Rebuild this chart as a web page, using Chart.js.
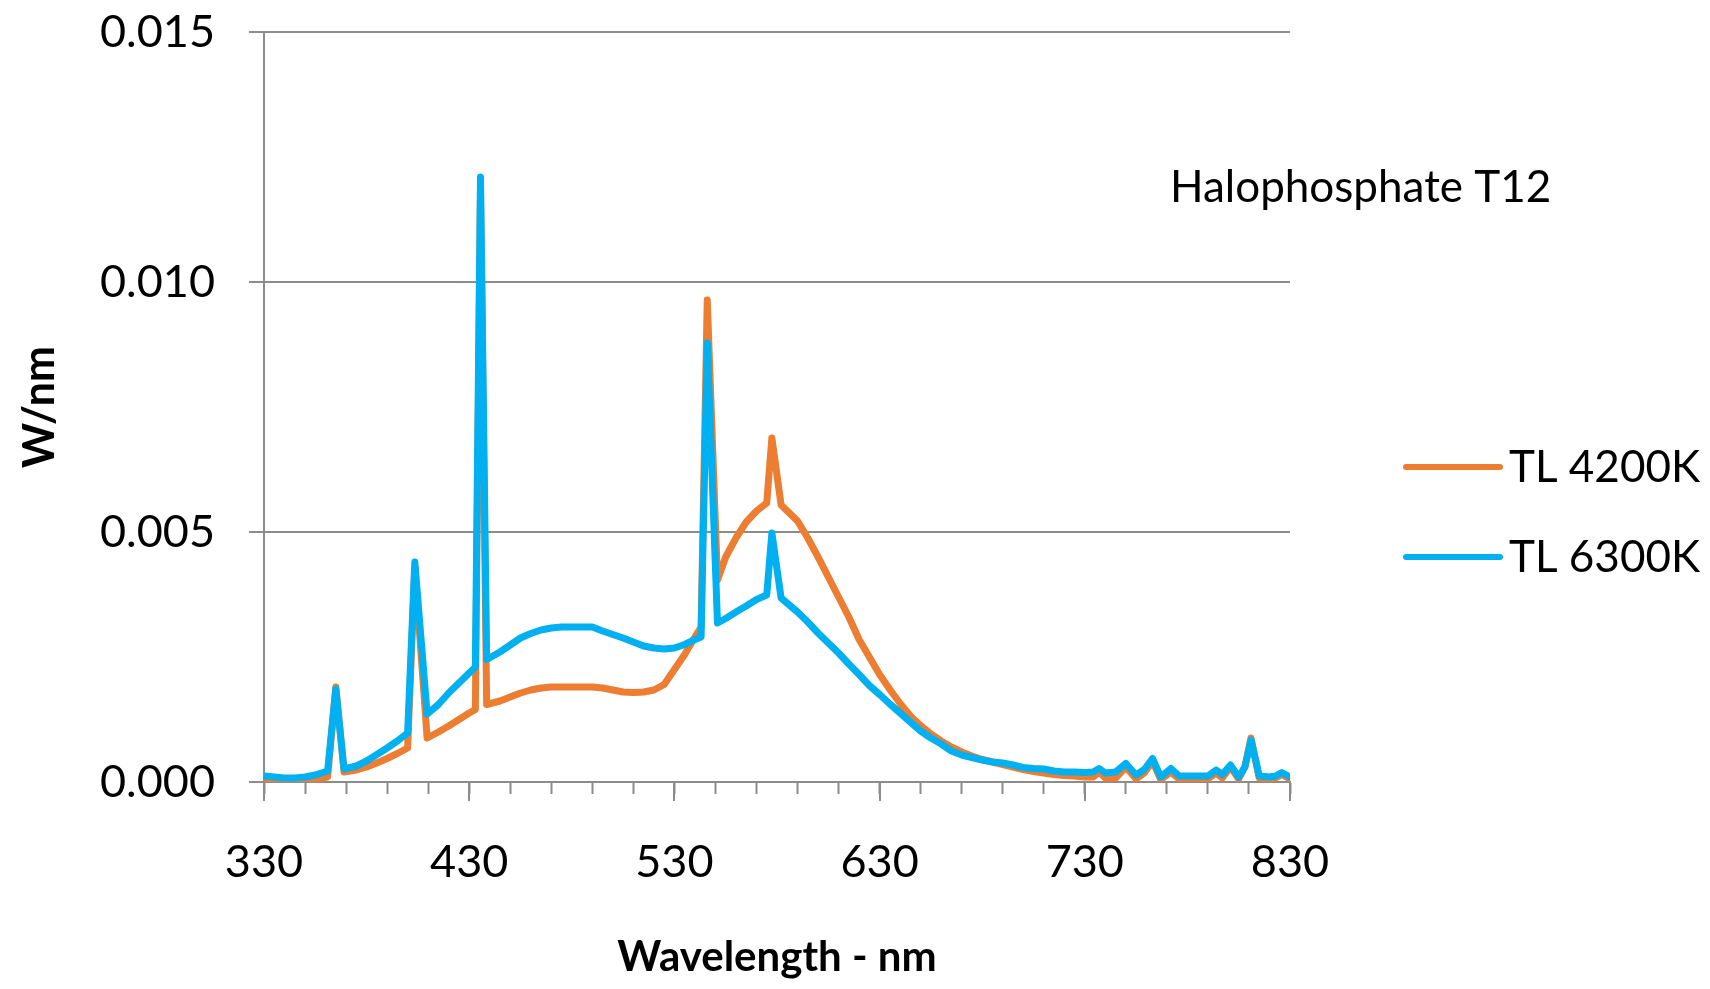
<!DOCTYPE html>
<html>
<head>
<meta charset="utf-8">
<script src="https://cdn.jsdelivr.net/npm/chart.js@4.4.1/dist/chart.umd.min.js"></script>
<style>
  html, body { margin: 0; padding: 0; background: #ffffff; }
  #wrap { position: relative; width: 1710px; height: 989px; }
</style>
</head>
<body>
<div id="wrap"><canvas id="c" width="1710" height="989"></canvas></div>
<script>
// ---- data ----
const wavelengths = [330,335,340,345,350,355,361,365,369,375,380,385,390,395,400,403.5,409.5,415,420,425,430,433,435.5,438.5,445,450,455,460,465,470,475,480,485,490,495,500,505,510,515,520,525,530,535,540,543,546,551,555,560,565,570,575,577.5,582,590,595,600,605,610,615,620,625,630,635,640,645,650,655,660,665,670,675,680,685,690,695,700,705,710,715,720,725,730,734,737,740,745,750,755,759,763,767,772,776,780,785,790,794,797,801,805,808,811,815,820,823,826,830];

const tl4200K = [0.00005,0.00004,0.00004,0.00004,0.00005,0.00006,0.00010,0.00190,0.00020,0.00024,0.00030,0.00038,0.00047,0.00057,0.00068,0.00430,0.00088,0.00100,0.00112,0.00125,0.00138,0.00145,0.01180,0.00155,0.00162,0.00170,0.00178,0.00184,0.00188,0.00190,0.00190,0.00190,0.00190,0.00190,0.00188,0.00184,0.00180,0.00179,0.00180,0.00184,0.00195,0.00225,0.00255,0.00290,0.00310,0.00964,0.00404,0.00450,0.00488,0.00520,0.00542,0.00558,0.00688,0.00554,0.00522,0.00488,0.00450,0.00410,0.00370,0.00330,0.00285,0.00250,0.00215,0.00185,0.00157,0.00132,0.00113,0.00096,0.00082,0.00070,0.00060,0.00052,0.00045,0.00040,0.00035,0.00030,0.00025,0.00021,0.00018,0.00015,0.00013,0.00012,0.00010,0.00010,0.00020,0.00008,0.00008,0.00030,0.00006,0.00018,0.00042,0.00005,0.00020,0.00006,0.00006,0.00006,0.00006,0.00018,0.00008,0.00030,0.00006,0.00030,0.00088,0.00008,0.00006,0.00008,0.00015,0.00006];

const tl6300K = [0.00012,0.00010,0.00008,0.00008,0.00010,0.00014,0.00022,0.00186,0.00026,0.00032,0.00042,0.00055,0.00068,0.00082,0.00098,0.00440,0.00136,0.00155,0.00178,0.00198,0.00218,0.00230,0.01210,0.00245,0.00260,0.00274,0.00288,0.00297,0.00304,0.00308,0.00310,0.00310,0.00310,0.00310,0.00302,0.00295,0.00288,0.00280,0.00272,0.00268,0.00266,0.00268,0.00275,0.00285,0.00290,0.00878,0.00318,0.00327,0.00340,0.00352,0.00365,0.00374,0.00498,0.00368,0.00340,0.00320,0.00298,0.00278,0.00258,0.00236,0.00215,0.00193,0.00175,0.00156,0.00138,0.00120,0.00102,0.00088,0.00076,0.00062,0.00054,0.00049,0.00044,0.00040,0.00038,0.00034,0.00029,0.00027,0.00026,0.00022,0.00020,0.00020,0.00019,0.00020,0.00027,0.00018,0.00020,0.00037,0.00014,0.00025,0.00047,0.00010,0.00027,0.00012,0.00012,0.00012,0.00012,0.00024,0.00015,0.00034,0.00010,0.00030,0.00084,0.00012,0.00010,0.00012,0.00019,0.00010];

const seriesNames = ['TL 4200K', 'TL 6300K'];
const xMajorTicks = [330, 430, 530, 630, 730, 830];
const yTicks = [0, 0.005, 0.010, 0.015];
const xMinorStep = 20;
const chartSubtitle = 'Halophosphate T12';
const xTitle = 'Wavelength - nm';
const yTitle = 'W/nm';

// ---- styling ----
const FONT = 'Lato, "Open Sans", sans-serif';
const GRID = '#8c8c8c';
const ORANGE = '#ED7D31';
const BLUE = '#00B0F0';

const toPoints = (vals) => vals.map((v, i) => ({ x: wavelengths[i], y: v }));

const xTickValues = [];
for (let v = xMajorTicks[0]; v <= xMajorTicks[xMajorTicks.length - 1]; v += xMinorStep) xTickValues.push(v);
if (xTickValues[xTickValues.length - 1] !== 830) xTickValues.push(830);

const decorPlugin = {
  id: 'decor',
  afterDraw(chart) {
    const ctx = chart.ctx;
    const xs = chart.scales.x;
    const area = chart.chartArea;
    ctx.save();
    // longer major tick marks on the x axis
    ctx.strokeStyle = GRID;
    ctx.lineWidth = 2;
    xMajorTicks.forEach(v => {
      const px = Math.round(xs.getPixelForValue(v));
      ctx.beginPath();
      ctx.moveTo(px, area.bottom);
      ctx.lineTo(px, area.bottom + 19);
      ctx.stroke();
    });
    // subtitle
    ctx.fillStyle = '#000000';
    ctx.font = '44px ' + FONT;
    ctx.textAlign = 'left';
    ctx.textBaseline = 'middle';
    ctx.fillText(chartSubtitle, 1170, 188);
    // legend
    const rows = [467, 557];
    chart.data.datasets.forEach((ds, i) => {
      const y = rows[i];
      ctx.strokeStyle = ds.borderColor;
      ctx.lineWidth = 6;
      ctx.lineCap = 'round';
      ctx.beginPath();
      ctx.moveTo(1406, y);
      ctx.lineTo(1500, y);
      ctx.stroke();
      ctx.fillStyle = '#000000';
      ctx.font = '44px ' + FONT;
      ctx.fillText(ds.label, 1509, y + 1);
    });
    ctx.restore();
  }
};

new Chart(document.getElementById('c'), {
  type: 'line',
  data: {
    datasets: [
      { label: seriesNames[0], data: toPoints(tl4200K), borderColor: ORANGE, backgroundColor: ORANGE, borderWidth: 7, order: 2 },
      { label: seriesNames[1], data: toPoints(tl6300K), borderColor: BLUE, backgroundColor: BLUE, borderWidth: 7, order: 1 }
    ]
  },
  options: {
    responsive: false,
    animation: false,
    devicePixelRatio: 1,
    layout: { padding: { left: 0, right: 420, top: 32, bottom: 0 } },
    elements: {
      point: { radius: 0, hoverRadius: 0 },
      line: { tension: 0, borderJoinStyle: 'round', borderCapStyle: 'round', fill: false }
    },
    plugins: {
      legend: { display: false },
      tooltip: { enabled: false },
      title: { display: false }
    },
    scales: {
      x: {
        type: 'linear',
        min: 330,
        max: 830,
        afterBuildTicks: (scale) => { scale.ticks = xTickValues.map(v => ({ value: v })); },
        afterFit: (scale) => { scale.height = 989 - 782; scale.paddingLeft = 0; scale.paddingRight = 0; },
        border: { display: true, color: GRID, width: 2 },
        grid: { display: true, drawOnChartArea: false, drawTicks: true, tickLength: 12, tickColor: GRID, tickWidth: 2 },
        ticks: {
          autoSkip: false,
          maxRotation: 0,
          padding: 41,
          color: '#000000',
          font: { family: FONT, size: 45 },
          callback: (v) => (xMajorTicks.includes(v) ? String(v) : '')
        },
        title: {
          display: true,
          text: xTitle,
          color: '#000000',
          font: { family: FONT, size: 42, weight: 'bold' },
          padding: { top: 0, bottom: 6 }
        }
      },
      y: {
        type: 'linear',
        min: 0,
        max: 0.015,
        afterBuildTicks: (scale) => { scale.ticks = yTicks.map(v => ({ value: v })); },
        afterFit: (scale) => { scale.width = 264; scale.paddingTop = 0; scale.paddingBottom = 0; },
        border: { display: true, color: GRID, width: 2 },
        grid: { display: true, color: GRID, lineWidth: 2, drawTicks: true, tickLength: 15, tickColor: GRID },
        ticks: {
          padding: 34,
          color: '#000000',
          font: { family: FONT, size: 45 },
          callback: (v) => Number(v).toFixed(3)
        },
        title: {
          display: true,
          text: yTitle,
          color: '#000000',
          font: { family: FONT, size: 43, weight: 'bold' },
          padding: { top: 14, bottom: 0 }
        }
      }
    }
  },
  plugins: [decorPlugin]
});
</script>
</body>
</html>
